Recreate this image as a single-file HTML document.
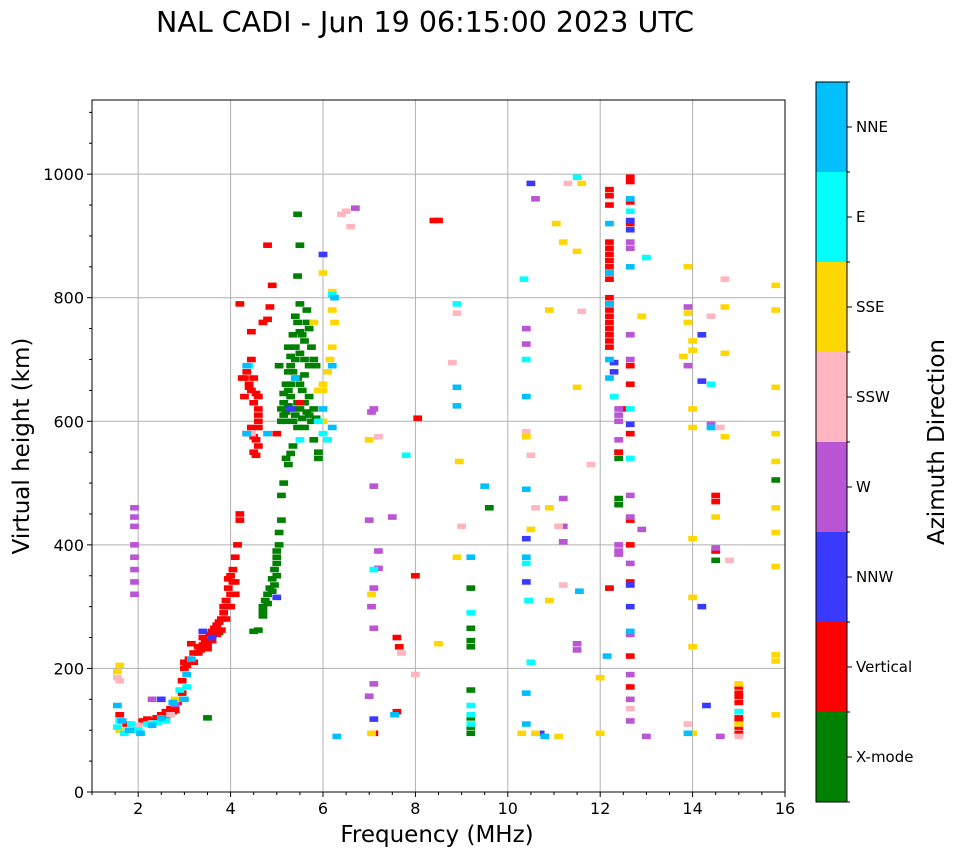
<!DOCTYPE html>
<html><head><meta charset="utf-8"><style>
body{margin:0;background:#fff;font-family:"DejaVu Sans","Liberation Sans",sans-serif}
svg text{font-family:"DejaVu Sans","Liberation Sans",sans-serif}
</style></head><body>
<svg id="c" width="958" height="857" xmlns="http://www.w3.org/2000/svg">
<text x="425" y="32" text-anchor="middle" font-size="28.5">NAL CADI - Jun 19 06:15:00 2023 UTC</text>
<g id="grid"></g>
<g id="marks"></g>
<rect x="92" y="100" width="693" height="692" fill="none" stroke="#000" stroke-width="1"/>
<g id="axes"></g>
<text x="437" y="842" text-anchor="middle" font-size="23">Frequency (MHz)</text>
<text transform="translate(29,446) rotate(-90)" text-anchor="middle" font-size="23">Virtual height (km)</text>
<g id="cbar"></g>
<text transform="translate(944,442) rotate(-90)" text-anchor="middle" font-size="23">Azimuth Direction</text>
</svg>
<script>
const xTicks=[2,4,6,8,10,12,14,16];
const yTicks=[0,200,400,600,800,1000];
const dirNames=["X-mode","Vertical","NNW","W","SSW","SSE","E","NNE"];
const dirColors=["#008000","#ff0000","#3a3aff","#ba55d3","#ffb6c1","#ffd700","#00ffff","#00bfff"];
const xmode=[[3.5,120],[3.7,260],[3.75,258],[4.5,260],[4.6,262],[4.7,285],[4.7,300],[4.75,310],[4.8,320],[4.85,330],[4.9,345],[4.95,360],[5.0,380],[5.0,390],[5.05,400],[5.05,420],[5.1,440],[5.1,480],[5.15,500],[5.2,540],[5.25,530],[5.3,548],[5.35,560],[5.1,620],[5.15,610],[5.2,615],[5.25,625],[5.3,640],[5.35,600],[5.4,610],[5.45,590],[5.5,620],[5.55,605],[5.6,630],[5.65,615],[5.7,640],[5.75,600],[5.2,660],[5.3,690],[5.4,700],[5.5,710],[5.55,740],[5.6,730],[5.65,760],[5.7,750],[5.75,720],[5.8,700],[5.85,690],[5.5,660],[5.45,670],[5.35,740],[5.4,770],[5.5,790],[5.45,835],[5.45,935],[5.5,885],[5.9,550],[5.9,540],[5.8,570],[5.25,680],[5.05,690],[5.45,760],[4.9,325],[4.95,335],[5.0,350],[5.0,370],[4.8,305],[4.7,292],[5.1,600],[5.15,630],[5.25,650],[5.35,620],[5.45,630],[5.55,650],[5.6,675],[5.7,690],[5.3,705],[5.4,720],[5.5,745],[5.25,720],[5.6,700],[5.65,780],[5.7,610],[5.8,620],[5.85,605],[5.6,590],[5.3,660],[5.15,645],[5.2,600],[5.35,680],[9.2,95],[9.2,105],[9.2,120],[9.2,165],[9.2,235],[9.2,245],[9.2,265],[9.2,330],[9.6,460],[12.4,465],[12.4,475],[12.4,540],[12.4,550],[14.5,375],[15.8,505]];
const vertical=[[1.6,125],[1.75,110],[1.95,100],[2.1,115],[2.2,118],[2.3,115],[2.4,120],[2.5,125],[2.55,118],[2.6,130],[2.65,125],[2.7,135],[2.75,130],[2.8,140],[2.85,145],[2.9,150],[2.95,160],[2.95,180],[3.0,200],[3.05,205],[3.1,215],[3.15,240],[3.2,225],[3.3,235],[3.35,230],[3.4,250],[3.45,245],[3.5,240],[3.55,255],[3.6,260],[3.65,265],[3.7,270],[3.8,280],[3.85,300],[3.9,310],[3.95,330],[4.0,350],[4.0,300],[4.05,360],[4.1,320],[4.1,380],[4.15,400],[4.2,440],[4.2,450],[3.2,210],[3.3,225],[3.5,232],[3.6,245],[3.7,255],[3.8,262],[3.9,280],[3.95,300],[4.0,320],[3.85,290],[3.75,275],[2.4,115],[2.6,120],[2.8,132],[3.0,210],[3.4,238],[3.95,345],[4.05,340],[4.1,340],[4.3,640],[4.3,670],[4.4,660],[4.35,680],[4.45,650],[4.5,670],[4.55,645],[4.5,630],[4.6,610],[4.6,620],[4.6,600],[4.45,590],[4.5,575],[4.55,570],[4.6,560],[4.5,550],[4.35,580],[4.45,700],[4.45,745],[4.2,790],[4.7,760],[4.8,765],[4.8,885],[4.9,820],[4.85,785],[4.25,670],[4.4,655],[4.6,640],[4.6,590],[4.55,545],[5.0,580],[5.5,630],[7.1,95],[7.6,130],[7.6,250],[7.65,235],[8.0,350],[8.05,605],[8.4,925],[8.5,925],[12.2,975],[12.2,965],[12.2,950],[12.2,890],[12.2,880],[12.2,870],[12.2,860],[12.2,850],[12.2,840],[12.2,830],[12.2,800],[12.2,790],[12.2,780],[12.2,770],[12.2,760],[12.2,750],[12.2,740],[12.2,730],[12.2,720],[12.2,330],[12.4,550],[12.5,620],[12.65,995],[12.65,988],[12.65,955],[12.65,920],[12.65,690],[12.65,660],[12.65,580],[12.65,440],[12.65,400],[12.65,340],[12.65,220],[12.65,170],[14.5,480],[14.5,470],[14.5,390],[15.0,170],[15.0,160],[15.0,155],[15.0,145],[15.0,130],[15.0,120],[15.0,115],[15.0,105],[15.0,95]];
const nnw=[[2.5,150],[3.4,260],[3.6,250],[5.0,315],[5.3,620],[6.0,870],[7.1,118],[10.4,410],[10.4,340],[10.5,985],[12.3,695],[12.3,680],[12.65,595],[12.65,335],[12.65,300],[14.2,300],[14.2,665],[14.3,140],[14.2,740],[10.7,95],[12.65,925],[12.65,910]];
const w=[[1.92,460],[1.92,445],[1.92,430],[1.92,400],[1.92,380],[1.92,360],[1.92,340],[1.92,320],[2.3,150],[2.8,142],[6.7,945],[7.0,440],[7.05,615],[7.1,620],[7.1,495],[7.2,390],[7.2,362],[7.1,330],[7.05,300],[7.1,265],[7.1,175],[7.0,155],[7.5,445],[10.4,750],[10.4,725],[10.6,960],[11.2,475],[11.2,430],[11.2,405],[12.4,620],[12.4,610],[12.4,600],[12.4,570],[12.4,400],[12.4,390],[12.4,385],[12.65,890],[12.65,880],[12.65,740],[12.65,700],[12.65,480],[12.65,445],[12.65,370],[12.65,255],[12.65,190],[12.65,150],[12.65,115],[12.9,425],[13.0,90],[13.9,785],[13.9,690],[14.4,595],[14.6,90],[14.5,395],[11.5,240],[11.5,230]];
const ssw=[[1.55,185],[1.6,180],[2.0,108],[2.3,112],[2.7,125],[4.45,580],[6.4,935],[6.5,940],[6.6,915],[7.0,570],[7.2,575],[7.7,225],[8.0,190],[8.8,695],[8.9,775],[9.0,430],[10.4,583],[10.5,545],[10.6,460],[11.1,430],[11.2,335],[11.3,985],[11.6,778],[11.8,530],[12.65,135],[13.9,110],[14.6,590],[14.7,830],[14.8,375],[15.0,90],[14.4,770]];
const sse=[[1.55,195],[1.6,205],[1.6,100],[2.8,150],[6.0,840],[6.2,810],[6.2,780],[6.25,760],[6.2,720],[6.15,700],[6.1,680],[6.0,660],[6.0,650],[6.0,600],[5.8,760],[5.9,650],[7.0,570],[7.05,95],[7.05,320],[8.5,240],[8.9,380],[8.95,535],[10.4,575],[10.5,425],[10.9,780],[10.9,460],[10.9,310],[11.05,920],[11.2,890],[11.5,875],[11.5,655],[11.6,985],[12.0,95],[12.0,185],[12.9,770],[13.8,705],[13.9,760],[13.9,775],[14.0,730],[14.0,715],[13.9,850],[14.0,620],[14.0,590],[14.0,410],[14.0,315],[14.0,235],[14.0,95],[14.5,445],[14.7,575],[14.7,710],[14.7,785],[15.0,175],[15.0,110],[15.8,820],[15.8,780],[15.8,655],[15.8,580],[15.8,535],[15.8,460],[15.8,420],[15.8,365],[15.8,222],[15.8,212],[15.8,125],[10.3,95],[10.6,95],[11.1,90]];
const e=[[1.55,105],[1.6,115],[1.7,95],[1.85,110],[2.0,100],[2.2,110],[2.4,112],[2.6,115],[2.9,165],[3.05,170],[4.4,690],[5.5,570],[5.9,600],[6.0,580],[6.1,570],[6.2,805],[7.1,360],[7.8,545],[8.9,790],[9.2,140],[9.2,125],[9.2,110],[9.2,290],[10.35,830],[10.4,700],[10.4,370],[10.45,310],[10.5,210],[11.5,995],[12.3,640],[12.65,620],[12.65,540],[12.65,940],[13.0,865],[14.4,590],[14.4,660],[15.0,130]];
const nne=[[1.55,140],[1.65,115],[1.8,100],[2.05,95],[2.3,108],[2.5,120],[2.75,145],[3.0,150],[3.05,190],[3.15,215],[4.35,690],[4.35,580],[4.8,580],[5.4,670],[6.25,800],[6.2,690],[6.2,590],[6.0,620],[6.3,90],[7.55,125],[8.9,655],[8.9,625],[9.2,380],[9.5,495],[10.4,640],[10.4,490],[10.4,380],[10.4,160],[10.4,110],[10.8,90],[11.55,325],[12.2,920],[12.2,840],[12.2,790],[12.2,700],[12.15,220],[12.2,670],[12.65,960],[12.65,850],[12.65,260],[13.9,95],[14.4,590]];
const series=[xmode,vertical,nnw,w,ssw,sse,e,nne];

const X0=92,X1=785,Y0=792,Y1=100,FMIN=1,FMAX=16,HMIN=0,HMAX=1120;
const xs=f=>X0+(f-FMIN)/(FMAX-FMIN)*(X1-X0);
const ys=h=>Y0-(h-HMIN)/(HMAX-HMIN)*(Y0-Y1);
const NS="http://www.w3.org/2000/svg";
function mk(tag,attrs,parent){const el=document.createElementNS(NS,tag);for(const k in attrs)el.setAttribute(k,attrs[k]);parent.appendChild(el);return el;}
const grid=document.getElementById('grid'),axes=document.getElementById('axes'),marks=document.getElementById('marks'),cbar=document.getElementById('cbar');
xTicks.forEach(t=>{const x=xs(t);
 if(t<FMAX){const g=mk('line',{x1:x,x2:x,y1:Y1,y2:Y0,stroke:'#b0b0b0','stroke-width':1},grid);
 
 }
 mk('line',{x1:x,x2:x,y1:Y0,y2:Y0+5,stroke:'#000'},axes);
 const tx=mk('text',{x:x,y:Y0+22,'text-anchor':'middle','font-size':16},axes);tx.textContent=t;
 
 });
for(let f=1;f<=16;f+=0.5){if(xTicks.includes(f))continue;mk('line',{x1:xs(f),x2:xs(f),y1:Y0,y2:Y0+3,stroke:'#000'},axes);}
yTicks.forEach(t=>{const y=ys(t);
 if(t>0){const g=mk('line',{x1:X0,x2:X1,y1:y,y2:y,stroke:'#b0b0b0','stroke-width':1},grid);
 
 }
 mk('line',{x1:X0-5,x2:X0,y1:y,y2:y,stroke:'#000'},axes);
 const tx=mk('text',{x:X0-8,y:y+6,'text-anchor':'end','font-size':16},axes);tx.textContent=t;
 
 });
for(let h=50;h<1120;h+=50){if(h%200===0)continue;mk('line',{x1:X0-3,x2:X0,y1:ys(h),y2:ys(h),stroke:'#000'},axes);}
const BW=0.19,BH=9;
series.forEach((pts,i)=>{pts.forEach(p=>{
 const r=mk('rect',{x:xs(p[0]-BW/2),y:ys(p[1]+BH/2),width:xs(BW)-xs(0),height:ys(0)-ys(BH),fill:dirColors[i]},marks);
 
 });});
const CX=816,CW=31,CT=82,CB=802,bh=(CB-CT)/8;
dirNames.forEach((n,i)=>{const y=CB-(i+1)*bh;
 const r=mk('rect',{x:CX,y:y,width:CW,height:bh,fill:dirColors[i]},cbar);
 
 
 mk('line',{x1:CX+CW,x2:CX+CW+5,y1:y+bh/2,y2:y+bh/2,stroke:'#000'},cbar);
 const t=mk('text',{x:CX+CW+9,y:y+bh/2+5,'font-size':15},cbar);t.textContent=n;
 
 });
for(let i=0;i<=8;i++){mk('line',{x1:CX+CW,x2:CX+CW+3,y1:CT+i*bh,y2:CT+i*bh,stroke:'#000'},cbar);}
mk('rect',{x:CX,y:CT,width:CW,height:CB-CT,fill:'none',stroke:'#000'},cbar);
</script>
</body></html>
